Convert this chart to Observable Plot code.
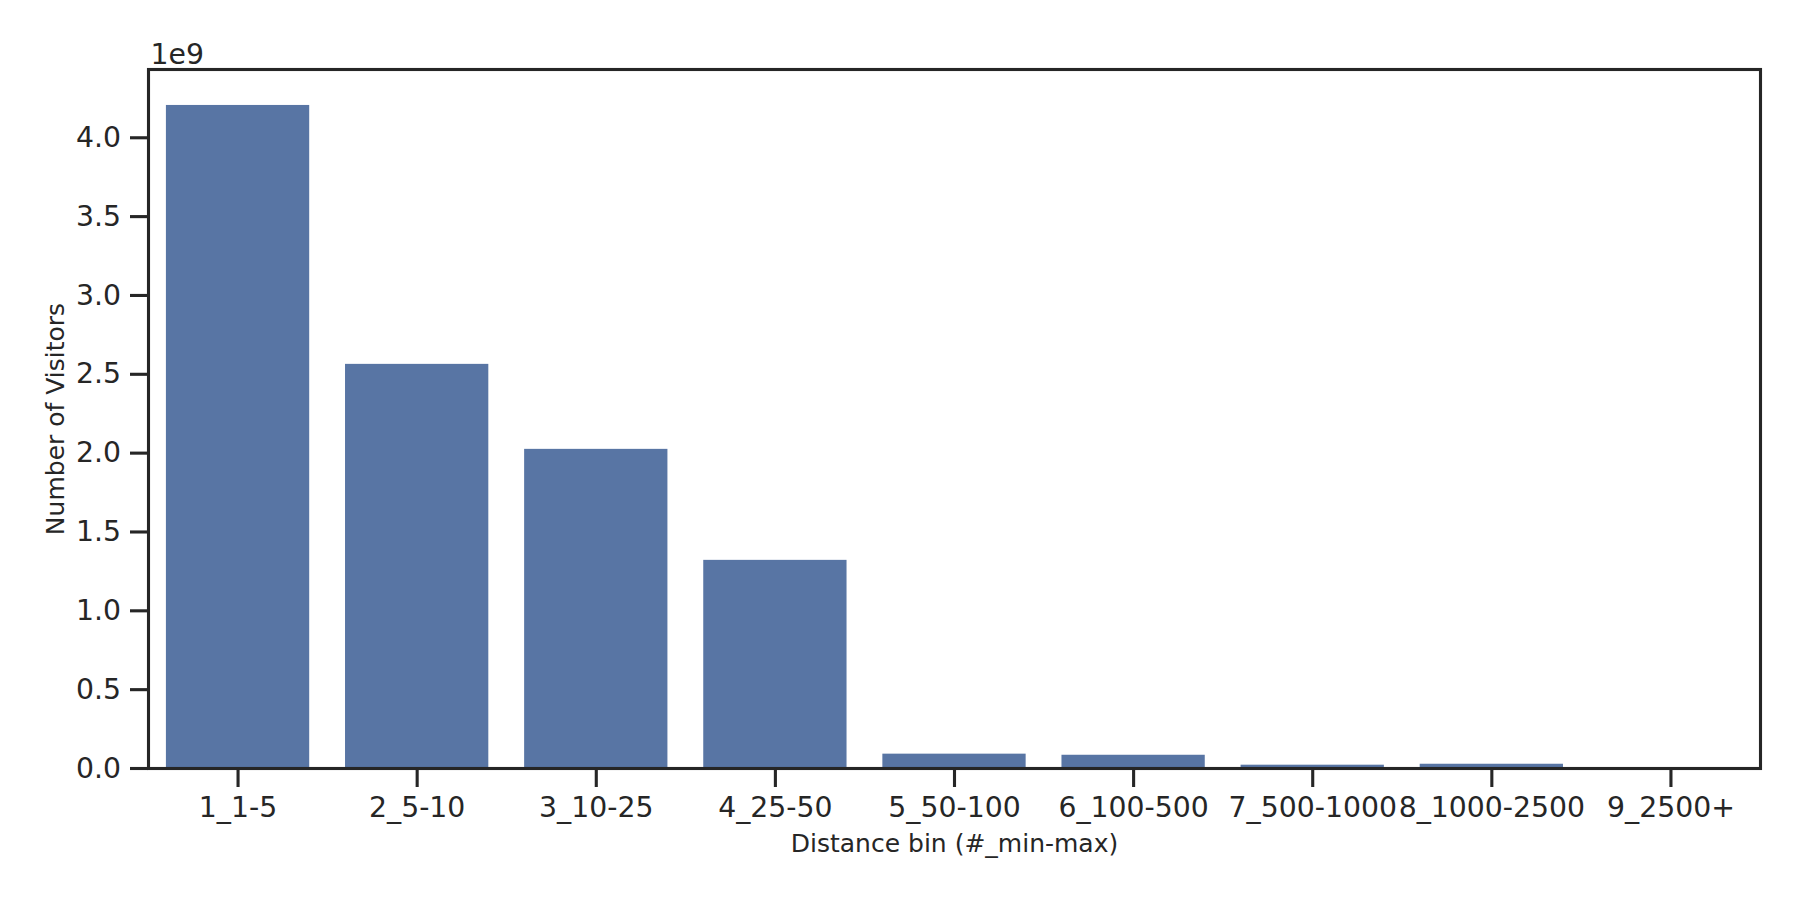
<!DOCTYPE html>
<html>
<head>
<meta charset="utf-8">
<script src="https://cdn.jsdelivr.net/npm/d3@7"></script>
<script src="https://cdn.jsdelivr.net/npm/@observablehq/plot@0.6"></script>
<style>
  html, body { margin: 0; padding: 0; background: #ffffff; }
  #chart { width: 1800px; height: 900px; }
</style>
</head>
<body>
<div id="chart"></div>
<script>
// ---- data ----
const bins = ["1_1-5", "2_5-10", "3_10-25", "4_25-50", "5_50-100", "6_100-500", "7_500-1000", "8_1000-2500", "9_2500+"];
const visitors = [4.205e9, 2.563e9, 2.024e9, 1.320e9, 0.091e9, 0.084e9, 0.021e9, 0.027e9, 0.002e9];
const yTicks = [0, 0.5e9, 1.0e9, 1.5e9, 2.0e9, 2.5e9, 3.0e9, 3.5e9, 4.0e9];
const yTickLabels = ["0.0", "0.5", "1.0", "1.5", "2.0", "2.5", "3.0", "3.5", "4.0"];
const yMax = 4.433e9;
const offsetText = "1e9";
const xLabel = "Distance bin (#_min-max)";
const yLabel = "Number of Visitors";

const data = bins.map((b, i) => ({bin: b, value: visitors[i]}));
const ink = "#262626";

const chart = Plot.plot({
  width: 1800,
  height: 900,
  marginLeft: 148,
  marginRight: 40,
  marginTop: 69,
  marginBottom: 132,
  style: {fontFamily: "DejaVu Sans", color: ink, background: "#ffffff"},
  x: {domain: bins, paddingInner: 0.2, paddingOuter: 0.1, align: 0.5, round: false},
  y: {domain: [0, yMax]},
  marks: [
    Plot.barY(data, {x: "bin", y: "value", fill: "#5875a4"}),
    Plot.axisX({tickSize: 19, tickPadding: 9, fontSize: 28.3, strokeWidth: 3.1, label: null, fill: ink}),
    Plot.axisY({ticks: yTicks, tickFormat: d => yTickLabels[yTicks.indexOf(d)], tickSize: 18, tickPadding: 9.5, fontSize: 28.3, strokeWidth: 3.1, label: null, fill: ink}),
    Plot.frame({stroke: ink, strokeWidth: 3.1}),
    Plot.text([offsetText], {frameAnchor: "top-left", textAnchor: "start", lineAnchor: "middle", dx: 2, dy: -14.8, fontSize: 28.3, fill: ink}),
    Plot.text([xLabel], {frameAnchor: "bottom", textAnchor: "middle", lineAnchor: "middle", dy: 75, fontSize: 25, fill: ink}),
    Plot.text([yLabel], {frameAnchor: "left", textAnchor: "middle", lineAnchor: "middle", rotate: -90, dx: -93, fontSize: 25, fill: ink})
  ]
});
document.getElementById("chart").appendChild(chart);
</script>
</body>
</html>
